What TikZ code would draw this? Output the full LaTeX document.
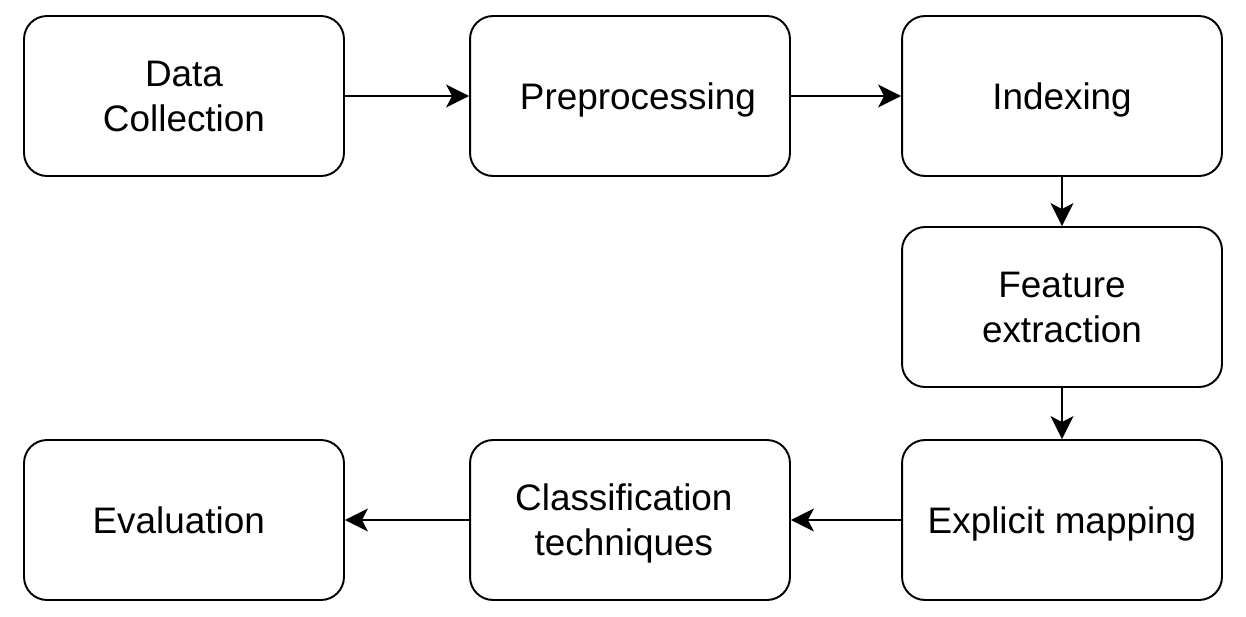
\documentclass[tikz,border=0pt]{standalone}
\usepackage{fontspec}
\setmainfont{Liberation Sans}
\usetikzlibrary{arrows.meta}

\begin{document}
\begin{tikzpicture}[x=0.02cm, y=-0.02cm]
  \tikzstyle{every node}+=[inner sep=0pt]
  \tikzstyle{stage}=[draw=black, line width=1.1pt, rounded corners=0.46cm,
    minimum width=6.4cm, minimum height=3.2cm, align=center, text depth=0pt,
    font=\fontsize{21}{25.5}\selectfont]
  \tikzstyle{flow}=[line width=1.1pt,
    -{Stealth[length=0.46cm, width=0.46cm, inset=0.12cm]}]
  \useasboundingbox (0,0) rectangle (1246,616);
  \node [stage] (collect) at (184,96) {Data\\Collection};
  \node [stage] (prep) at (630,96) {\hspace{9pt}Preprocessing};
  \node [stage] (index) at (1062,96) {Indexing};
  \node [stage] (feat) at (1062,307) {Feature\\extraction};
  \node [stage] (map) at (1062,520) {Explicit mapping};
  \node [stage] (classify) at (630,520) {Classification\kern7pt\\techniques\kern7pt};
  \node [stage] (eval) at (184,520) {Evaluation\hspace{6pt}};
  \draw [flow] (collect) -- (prep);
  \draw [flow] (prep) -- (index);
  \draw [flow] (index) -- (feat);
  \draw [flow] (feat) -- (map);
  \draw [flow] (map) -- (classify);
  \draw [flow] (classify) -- (eval);
\end{tikzpicture}
\end{document}
